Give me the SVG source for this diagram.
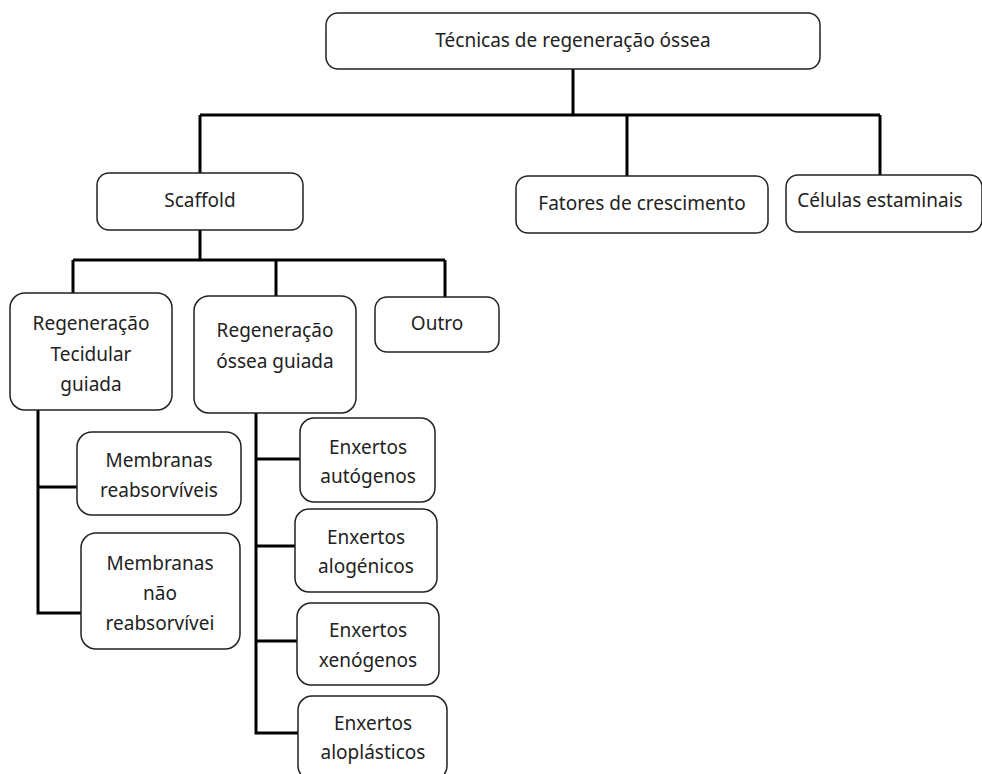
<svg xmlns="http://www.w3.org/2000/svg" width="982" height="774" viewBox="0 0 982 774">
<style>
.box{fill:#fff;stroke:#222;stroke-width:1.5}
.t{font-family:"Noto Sans","DejaVu Sans",sans-serif;font-size:19px;fill:#222;text-anchor:middle}
.c{fill:none;stroke:#000;stroke-width:3}
</style>
<rect width="982" height="774" fill="#fff"/>
<g id="connectors">
<path class="c" d="M573,69 V115 M200,115 H880 M200,115 V173 M627,115 V177 M880,115 V176"/>
<path class="c" d="M200,230 V260 M73,260 H445 M73,260 V293 M276,260 V296 M445,260 V297"/>
<path class="c" d="M38,410 V613 H81 M38,487 H77"/>
<path class="c" d="M256,413 V733 H298 M256,459 H300 M256,546 H295 M256,641 H297"/>
</g>
<g id="n-root"><rect class="box" x="326" y="13" width="494" height="56" rx="12"/><text class="t" x="573" y="47">Técnicas de regeneração óssea</text></g>
<g id="n-scaffold"><rect class="box" x="97" y="173" width="206" height="57" rx="12"/><text class="t" x="200" y="207">Scaffold</text></g>
<g id="n-fatores"><rect class="box" x="516" y="176" width="252" height="57" rx="12"/><text class="t" x="642" y="210">Fatores de crescimento</text></g>
<g id="n-celulas"><rect class="box" x="786" y="175" width="196" height="57" rx="12"/><text class="t" x="880" y="207">Células estaminais</text></g>
<g id="n-rtg"><rect class="box" x="10" y="293" width="162" height="117" rx="15"/><text class="t" x="91" y="330">Regeneração</text><text class="t" x="91" y="361">Tecidular</text><text class="t" x="91" y="391">guiada</text></g>
<g id="n-rog"><rect class="box" x="194" y="296" width="162" height="117" rx="15"/><text class="t" x="275" y="337">Regeneração</text><text class="t" x="275" y="368">óssea guiada</text></g>
<g id="n-outro"><rect class="box" x="375" y="297" width="124" height="55" rx="12"/><text class="t" x="437" y="330">Outro</text></g>
<g id="n-mr"><rect class="box" x="77" y="432" width="164" height="83" rx="15"/><text class="t" x="159" y="467">Membranas</text><text class="t" x="159" y="497">reabsorvíveis</text></g>
<g id="n-mnr"><rect class="box" x="81" y="533" width="159" height="116" rx="15"/><text class="t" x="160" y="570">Membranas</text><text class="t" x="160" y="600">não</text><text class="t" x="160" y="630">reabsorvívei</text></g>
<g id="n-aut"><rect class="box" x="300" y="418" width="135" height="84" rx="14"/><text class="t" x="368" y="454">Enxertos</text><text class="t" x="368" y="483">autógenos</text></g>
<g id="n-alo"><rect class="box" x="295" y="509" width="142" height="83" rx="14"/><text class="t" x="366" y="544">Enxertos</text><text class="t" x="366" y="573">alogénicos</text></g>
<g id="n-xen"><rect class="box" x="297" y="603" width="142" height="82" rx="14"/><text class="t" x="368" y="637">Enxertos</text><text class="t" x="368" y="667">xenógenos</text></g>
<g id="n-alp"><rect class="box" x="298" y="696" width="149" height="84" rx="14"/><text class="t" x="373" y="730">Enxertos</text><text class="t" x="373" y="759">aloplásticos</text></g>
</svg>
